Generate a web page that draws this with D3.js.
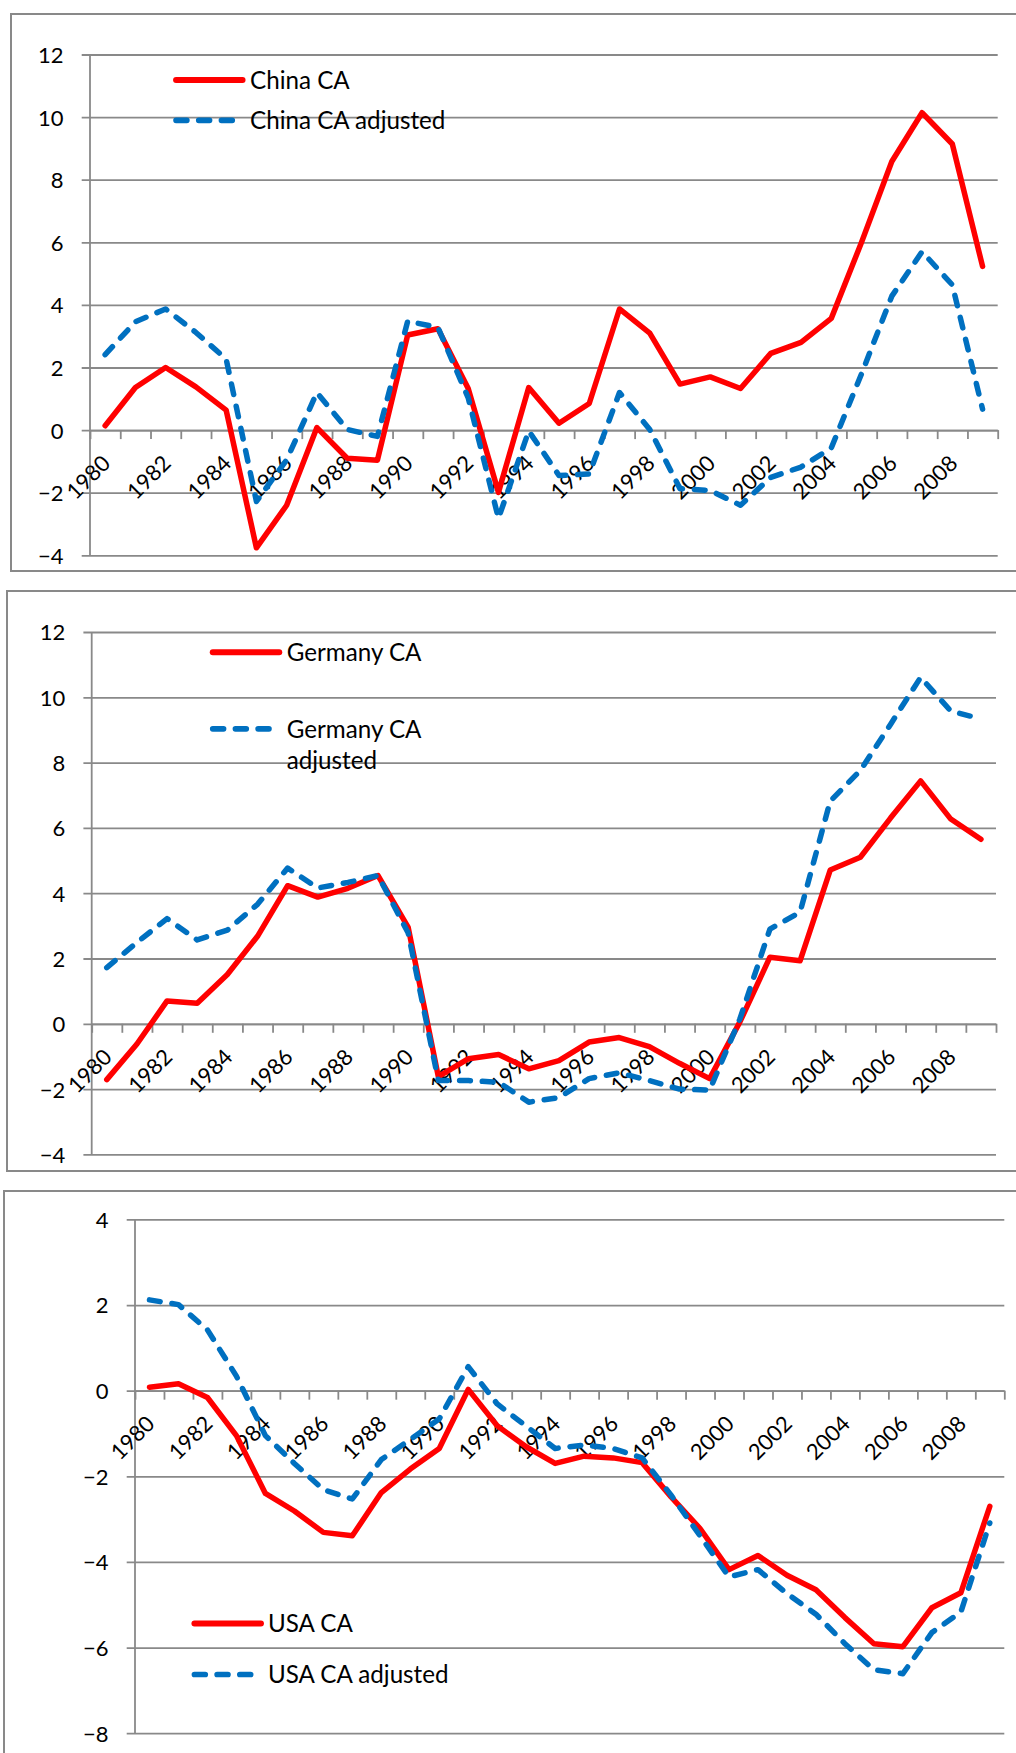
<!DOCTYPE html>
<html>
<head>
<meta charset="utf-8">
<script src="https://cdn.jsdelivr.net/npm/d3@7"></script>
<style>
  body { margin: 0; background: #fff; }
  svg { display: block; }
  text { font-family: Lato, "Open Sans", sans-serif; fill: #000; }
</style>
</head>
<body>
<div id="chart"></div>
<script>
// categories
const years = [1980,1981,1982,1983,1984,1985,1986,1987,1988,1989,
               1990,1991,1992,1993,1994,1995,1996,1997,1998,1999,
               2000,2001,2002,2003,2004,2005,2006,2007,2008,2009];
const yearLabels = [1980,1982,1984,1986,1988,1990,1992,1994,1996,1998,2000,2002,2004,2006,2008];

// series (% of GDP)
const chinaCA   = [0.14,1.36,2.0,1.38,0.64,-3.76,-2.4,0.08,-0.9,-0.96,3.04,3.24,1.33,-1.99,1.36,0.22,0.85,3.87,3.1,1.47,1.7,1.33,2.45,2.8,3.57,6.0,8.58,10.14,9.14,5.23];
const chinaAdj  = [2.41,3.46,3.87,3.12,2.27,-2.28,-0.95,1.2,0.02,-0.2,3.48,3.28,1.03,-2.82,-0.03,-1.45,-1.4,1.2,0.02,-1.87,-1.93,-2.4,-1.51,-1.18,-0.57,1.8,4.28,5.7,4.64,0.67];
const germanyCA = [-1.71,-0.62,0.70,0.63,1.51,2.68,4.23,3.88,4.15,4.54,2.95,-1.62,-1.07,-0.94,-1.38,-1.13,-0.56,-0.42,-0.70,-1.21,-1.68,0.05,2.04,1.93,4.71,5.10,6.3,7.44,6.27,5.65];
const germanyAdj= [1.72,2.49,3.22,2.57,2.87,3.66,4.77,4.16,4.33,4.54,2.78,-1.74,-1.74,-1.79,-2.40,-2.26,-1.68,-1.5,-1.74,-2.0,-2.03,0.14,2.9,3.42,6.82,7.76,9.17,10.61,9.58,9.34];
const usaCA     = [0.08,0.16,-0.16,-1.05,-2.40,-2.81,-3.31,-3.39,-2.38,-1.83,-1.35,0.03,-0.82,-1.31,-1.70,-1.53,-1.57,-1.68,-2.48,-3.22,-4.18,-3.85,-4.31,-4.65,-5.30,-5.91,-5.98,-5.07,-4.72,-2.70];
const usaAdj    = [2.12,2.01,1.42,0.34,-1.05,-1.70,-2.31,-2.53,-1.61,-1.14,-0.66,0.56,-0.31,-0.83,-1.35,-1.27,-1.35,-1.57,-2.44,-3.39,-4.35,-4.18,-4.74,-5.22,-5.91,-6.52,-6.61,-5.65,-5.17,-3.09];

// tick labels
const ticksCG  = [-4,-2,0,2,4,6,8,10,12];
const ticksUSA = [-8,-6,-4,-2,0,2,4];

const W = 1016, H = 1753;
const gridColor = "#898989";
const red = "#ff0000", blue = "#0070c0";
const lineW = 5.5;
const dash = "10.8,11.9";
const tickFont = "22px";
const legendFont = "24.2px";

const svg = d3.select("#chart").append("svg")
  .attr("width", W).attr("height", H);

const panels = [
  { frame: {x: 11, y: 14, bottom: 571},
    left: 90, right: 997.7, yTop: 54.5, yBot: 555.3, domain: [-4, 12], ticks: ticksCG,
    red: chinaCA, blue: chinaAdj,
    legend: {x: 173.3, y1: 80, y2: 120.3, tx: 250, redLabel: ["China CA"], blueLabel: ["China CA adjusted"]} },
  { frame: {x: 7, y: 591, bottom: 1171},
    left: 91.7, right: 996, yTop: 632, yBot: 1154.4, domain: [-4, 12], ticks: ticksCG,
    red: germanyCA, blue: germanyAdj,
    legend: {x: 210, y1: 652.3, y2: 728.8, tx: 286.7, redLabel: ["Germany CA"], blueLabel: ["Germany CA", "adjusted"]} },
  { frame: {x: 4, y: 1191, bottom: 1800},
    left: 135, right: 1004.3, yTop: 1219.4, yBot: 1733.2, domain: [-8, 4], ticks: ticksUSA,
    red: usaCA, blue: usaAdj,
    legend: {x: 191.7, y1: 1623.5, y2: 1674.5, tx: 268, redLabel: ["USA CA"], blueLabel: ["USA CA adjusted"]} }
];

function drawPanel(p) {
  const g = svg.append("g");

  // chart frame (right side runs past the page edge)
  g.append("rect")
    .attr("x", p.frame.x).attr("y", p.frame.y)
    .attr("width", W + 20 - p.frame.x).attr("height", p.frame.bottom - p.frame.y)
    .attr("fill", "none").attr("stroke", gridColor).attr("stroke-width", 2);

  const y = d3.scaleLinear().domain(p.domain).range([p.yBot, p.yTop]);
  const x = d3.scaleBand().domain(years).range([p.left, p.right]);
  const xEdge = d3.scaleLinear().domain([0, years.length]).range([p.left, p.right]);
  const y0 = y(0);

  // gridlines + y labels
  const yAxis = g.append("g")
    .attr("transform", "translate(" + p.right + ",0)")
    .call(d3.axisLeft(y).tickValues(p.ticks).tickSize(p.right - p.left + 8.3).tickPadding(18.2));
  yAxis.select(".domain").remove();
  yAxis.selectAll("line").attr("stroke", gridColor).attr("stroke-width", 1.8);
  yAxis.selectAll("text").attr("dy", "0.36em").style("font-size", tickFont);

  // vertical axis line
  g.append("line")
    .attr("x1", p.left).attr("x2", p.left)
    .attr("y1", p.yTop).attr("y2", p.yBot)
    .attr("stroke", gridColor).attr("stroke-width", 1.8);

  // category boundary ticks on the zero line
  const xTicks = g.append("g")
    .attr("transform", "translate(0," + y0 + ")")
    .call(d3.axisBottom(xEdge).tickValues(d3.range(years.length + 1)).tickSize(9).tickSizeOuter(0).tickFormat(""));
  xTicks.select(".domain").attr("stroke", gridColor).attr("stroke-width", 1.8);
  xTicks.selectAll("line").attr("stroke", gridColor).attr("stroke-width", 1.8);

  // rotated year labels
  const xLab = g.append("g")
    .attr("transform", "translate(0," + y0 + ")")
    .call(d3.axisBottom(x).tickValues(yearLabels).tickSize(0));
  xLab.select(".domain").remove();
  xLab.selectAll(".tick text")
    .attr("y", 0).attr("dy", "0.36em")
    .attr("text-anchor", "end")
    .attr("transform", "translate(1,29) rotate(-45)")
    .style("font-size", tickFont);

  // series lines
  const line = d3.line()
    .x((d, i) => x(years[i]) + x.bandwidth() / 2)
    .y(d => y(d));

  g.append("path").datum(p.red)
    .attr("d", line).attr("fill", "none")
    .attr("stroke", red).attr("stroke-width", lineW)
    .attr("stroke-linejoin", "round").attr("stroke-linecap", "round");

  g.append("path").datum(p.blue)
    .attr("d", line).attr("fill", "none")
    .attr("stroke", blue).attr("stroke-width", lineW)
    .attr("stroke-dasharray", dash)
    .attr("stroke-linejoin", "round").attr("stroke-linecap", "round");

  // legend
  const L = p.legend;
  const lg = g.append("g");
  lg.append("line")
    .attr("x1", L.x + 2.75).attr("x2", L.x + 72 - 2.75)
    .attr("y1", L.y1).attr("y2", L.y1)
    .attr("stroke", red).attr("stroke-width", 6).attr("stroke-linecap", "round");
  lg.append("line")
    .attr("x1", L.x + 2.75).attr("x2", L.x + 66)
    .attr("y1", L.y2).attr("y2", L.y2)
    .attr("stroke", blue).attr("stroke-width", 5.7)
    .attr("stroke-dasharray", dash).attr("stroke-linecap", "round");

  [[L.redLabel, L.y1], [L.blueLabel, L.y2]].forEach(([lines, ly]) => {
    const t = lg.append("text")
      .attr("x", L.tx).attr("y", ly)
      .style("font-size", legendFont);
    lines.forEach((s, k) => {
      t.append("tspan")
        .attr("x", L.tx)
        .attr("dy", k === 0 ? "0.36em" : "1.32em")
        .text(s);
    });
  });
}

panels.forEach(drawPanel);
</script>
</body>
</html>
